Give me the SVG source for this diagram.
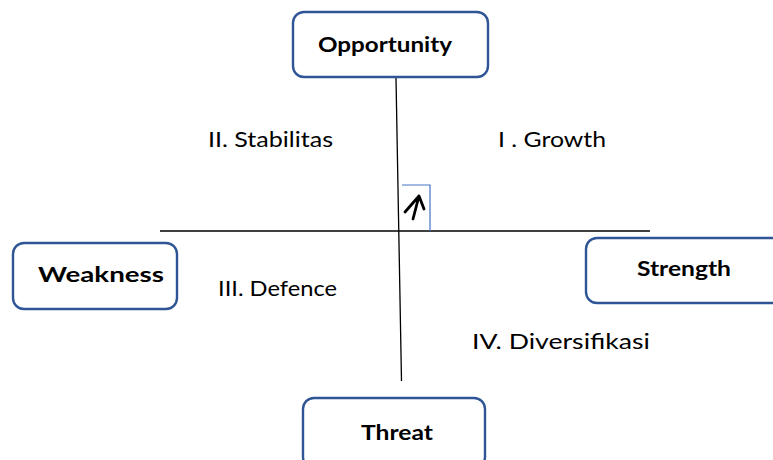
<svg xmlns="http://www.w3.org/2000/svg" width="773" height="460" viewBox="0 0 773 460">
<style>
.box{fill:#fff;stroke:#2F5597;stroke-width:2.4}
.lbl{font-family:Lato,"Open Sans","Liberation Sans",sans-serif;font-weight:bold;font-size:21px;fill:#000}
.q{font-family:Lato,"Open Sans","Liberation Sans",sans-serif;font-size:21px;fill:#000}
.ax{stroke:#000;stroke-width:1.3;fill:none}
</style>
<rect width="773" height="460" fill="#fff"/>
<g id="connectors">
<line class="ax" x1="396" y1="78" x2="401.5" y2="381"/>
<line class="ax" x1="160" y1="231" x2="650" y2="231"/>
</g>
<g id="marker-box">
<path d="M402,185 H430 V231" fill="none" stroke="#4472C4" stroke-width="1.2"/>
<path d="M405,212 L419,196 L424,209 M419,196 L413,219" fill="none" stroke="#000" stroke-width="2.8" stroke-linecap="round" stroke-linejoin="round"/>
</g>
<g id="opportunity">
<rect class="box" x="293" y="12" width="195" height="65" rx="11"/>
<text class="lbl" x="318" y="52" textLength="134" lengthAdjust="spacingAndGlyphs">Opportunity</text>
</g>
<g id="weakness">
<rect class="box" x="13" y="243" width="164" height="66" rx="11"/>
<text class="lbl" x="38" y="282" textLength="126" lengthAdjust="spacingAndGlyphs">Weakness</text>
</g>
<g id="strength">
<rect class="box" x="586" y="238" width="200" height="65" rx="11"/>
<text class="lbl" x="637" y="276" textLength="94" lengthAdjust="spacingAndGlyphs">Strength</text>
</g>
<g id="threat">
<rect class="box" x="303" y="398" width="182" height="70" rx="11"/>
<text class="lbl" x="361" y="440" textLength="72" lengthAdjust="spacingAndGlyphs">Threat</text>
</g>
<g id="quadrants">
<text class="q" x="208" y="147" textLength="125" lengthAdjust="spacingAndGlyphs">II. Stabilitas</text>
<text class="q" x="498" y="147" textLength="108" lengthAdjust="spacingAndGlyphs">I . Growth</text>
<text class="q" x="218" y="296" textLength="119" lengthAdjust="spacingAndGlyphs">III. Defence</text>
<text class="q" x="472" y="349" textLength="178" lengthAdjust="spacingAndGlyphs">IV. Diversifikasi</text>
</g>
</svg>
